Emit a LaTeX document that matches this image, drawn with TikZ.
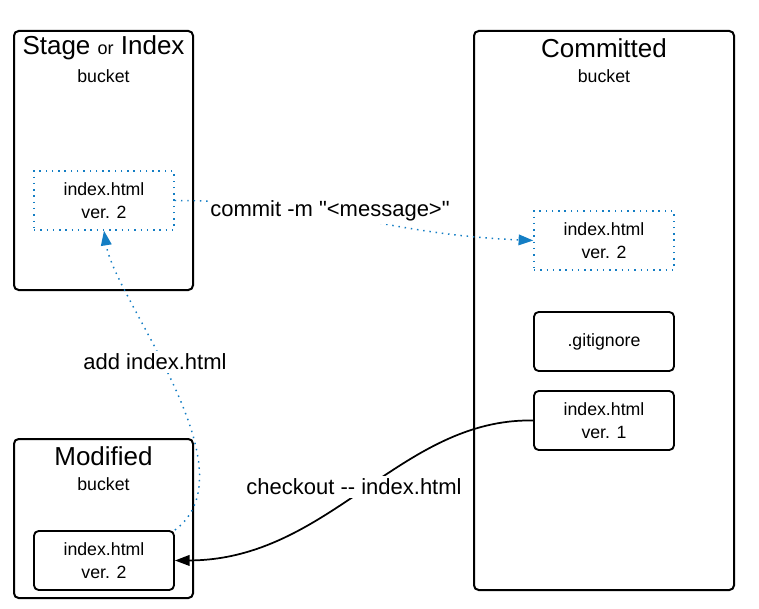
\documentclass[tikz,border=0pt]{standalone}
\usepackage{fontspec}
\setmainfont{Liberation Sans}[Ligatures=TeXOff]
\usetikzlibrary{arrows.meta}
\definecolor{gblue}{RGB}{20,126,196}
\tikzset{
  bucketbox/.style={draw=black, line width=1.5pt, rounded corners=3.5pt, minimum width=134.25pt},
  filebox/.style={draw=black, line width=1.4pt, rounded corners=3.5pt, minimum width=105pt, minimum height=44.25pt, align=center, font=\fontsize{13.3}{17.3}\selectfont, inner sep=0pt},
  dotbox/.style={draw=gblue, line width=1.1pt, dash pattern=on 1.1pt off 3.6pt, minimum width=105pt, minimum height=44.25pt, align=center, font=\fontsize{13.3}{17.3}\selectfont, inner sep=0pt},
  titletext/.style={font=\fontsize{19.5}{22}\selectfont, inner sep=0pt},
  buckettext/.style={font=\fontsize{13.3}{16}\selectfont, inner sep=0pt},
  edgelabel/.style={font=\fontsize{16.5}{19}\selectfont, fill=white, inner sep=2pt},
  dotedge/.style={draw=gblue, line width=1.1pt, dash pattern=on 1.1pt off 3.6pt, -{Triangle[length=11pt,width=8pt,fill=gblue,sep=0pt]}},
  solidedge/.style={draw=black, line width=1.3pt, -{Triangle[length=11pt,width=8pt]}},
}
\begin{document}
\begin{tikzpicture}[x=0.75pt, y=-0.75pt]
\useasboundingbox (0,0) rectangle (759,609);
% buckets
\node[bucketbox, minimum height=194.25pt] (stage) at (103.5,160.5) {};
\node[bucketbox, minimum width=195pt, minimum height=419.25pt] (committed) at (604,310.5) {};
\node[bucketbox, minimum height=119.25pt] (modified) at (103.5,518.5) {};
% titles
\node[titletext] (stagetitle) at (103.5,48) {Stage {\fontsize{13.5}{16}\selectfont or} Index};
\node[buckettext] (stagebucket) at (103.5,76) {bucket};
\node[titletext] (comtitle) at (604,48) {Committed};
\node[buckettext] (combucket) at (604,76) {bucket};
\node[titletext] (modtitle) at (103.5,456) {Modified};
\node[buckettext] (modbucket) at (103.5,484) {bucket};
% files
\node[dotbox] (sin) at (104,200.5) {index.html\\ver. 2};
\node[dotbox] (cin) at (604,240.5) {index.html\\ver. 2};
\node[filebox] (git) at (604,341.5) {.gitignore};
\node[filebox] (v1) at (604,420.5) {index.html\\ver. 1};
\node[filebox] (min) at (104,560.5) {index.html\\ver. 2};
% edges
\draw[dotedge] (sin.east) .. controls (330,201) and (380,234) .. (cin.west);
\draw[dotedge] (min.north east) .. controls (255,470) and (115,300) .. (sin.south);
\draw[solidedge] (v1.west) .. controls (400,418) and (330,560) .. (min.east);
% labels
\node[edgelabel] (commitlbl) at (330,211) {commit -m "<message>"};
\node[edgelabel] (addlbl) at (155,362) {add index.html};
\node[edgelabel] (checklbl) at (354,487) {checkout -{}- index.html};
\end{tikzpicture}
\end{document}
